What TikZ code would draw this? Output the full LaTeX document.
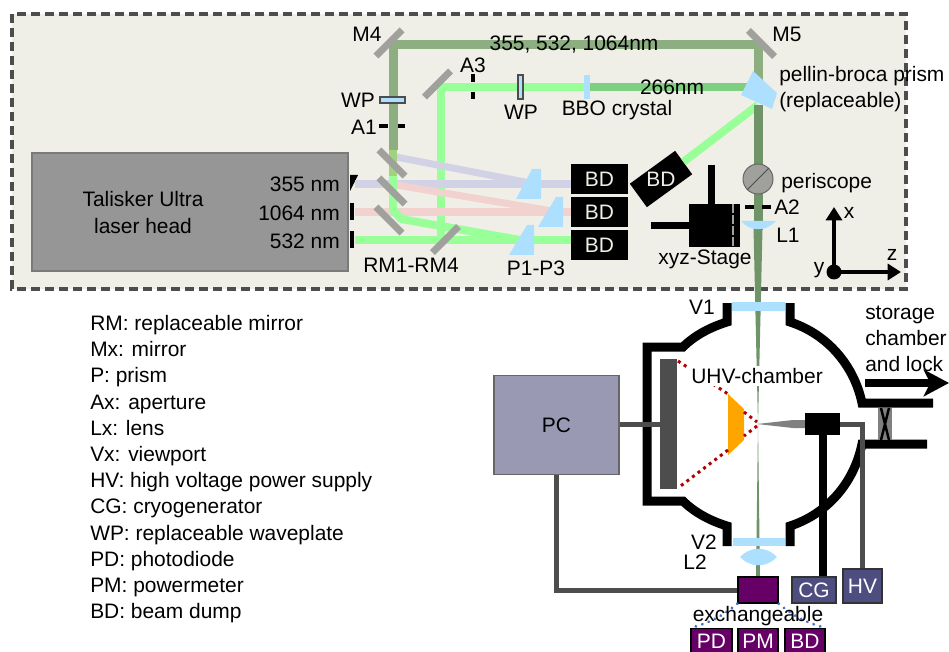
\documentclass[tikz,border=0pt]{standalone}
\usepackage{fontspec}
\setmainfont{Liberation Sans}
\usetikzlibrary{arrows.meta,positioning}
\newcommand{\px}{0.75pt}
\definecolor{tablebg}{HTML}{F0EFE7}
\definecolor{framegray}{HTML}{4D4D4D}
\definecolor{mirrorgray}{HTML}{A0A19C}
\definecolor{optblue}{HTML}{ADE0FF}
\definecolor{beamall}{HTML}{8DAE80}
\definecolor{beamuv}{HTML}{6F9468}
\definecolor{beamgreen}{HTML}{99FF99}
\definecolor{beamfour}{HTML}{7FCF80}
\definecolor{beamviolet}{HTML}{D2D2E6}
\definecolor{beampink}{HTML}{F2D2CE}
\definecolor{beammix}{HTML}{A0D27F}
\definecolor{pcblue}{HTML}{9999B3}
\definecolor{supplyblue}{HTML}{4D4D80}
\definecolor{detpurple}{HTML}{660066}
\definecolor{raydots}{HTML}{B00000}
\definecolor{linkdots}{HTML}{4472C4}
\definecolor{mcpfill}{HTML}{FFA500}

\begin{document}
\begin{tikzpicture}[x=\px, y=-\px, >=Stealth]
  \tikzset{
    every node/.style={inner sep=0pt, font=\fontsize{15.7}{19.65}\selectfont},
    dumpbox/.style={fill=black, text=tablebg, minimum width=57*\px, minimum height=30*\px},
    mirror/.style={fill=mirrorgray, minimum width=37*\px, minimum height=7*\px},
    beam/.style={line width=8*\px},
    aperture/.style={draw=black, line width=4.5*\px},
    prism/.style={fill=optblue},
    wplate/.style={fill=optblue, draw=framegray, line width=1.2*\px},
    detbox/.style={fill=detpurple, draw=black, line width=1.3*\px, text=white, minimum height=26*\px},
    supply/.style={fill=supplyblue, draw=black!80, line width=1.3*\px, text=white},
    wire/.style={draw=framegray, line width=5*\px},
    wall/.style={draw=black, line width=9*\px, miter limit=10},
    linkdot/.style={draw=linkdots, line width=3*\px, line cap=round, dash pattern=on 0.1pt off 5pt}
  }
  \useasboundingbox (0,0) rectangle (949,652);

  % optical table
  \draw[draw=framegray, fill=tablebg, line width=3.5*\px, dash pattern=on 9*\px off 5*\px] (12,14) rectangle (906,289);
  \node[fill=black!41, draw=black!52, line width=2.5*\px, minimum width=316*\px, minimum height=118*\px] (head) at (190,212) {};
  \node[align=center] (headtxt) at (143,213) {Talisker Ultra\\[0.6pt]laser head};
  \node[anchor=east] (l355) at (340,184) {355 nm};
  \node[anchor=east] (l1064) at (340,213) {1064 nm};
  \node[anchor=east] (l532) at (340,241) {532 nm};
  \fill (350,175) -- (358,175) -- (350,191) -- cycle;
  \fill (350,203) rectangle (354,220);
  \fill (350,231) rectangle (354,248);

  \node[dumpbox] (bd1) at (599.5,179) {BD};
  \node[dumpbox] (bd2) at (599.5,212) {BD};
  \node[dumpbox] (bd3) at (599.5,245) {BD};
  \node[fill=black, rotate=36, minimum width=56*\px, minimum height=29*\px] (bd4) at (661,179) {};
  \node[text=tablebg] (bd4txt) at (661,179) {BD};

  % turning points of the beams
  \coordinate (c4) at (393,45);
  \coordinate (c5) at (758,45);
  \coordinate (c3) at (441,87);
  \coordinate (cp) at (758,87);
  \coordinate (cr) at (758,105);
  \coordinate (cb) at (441,240);

  % beams
  \draw[beam, draw=beamgreen] (355,240) -- (bd3.west |- 355,240);
  \draw[beam, draw=beamgreen] (cb) -- (c3) -- (587,87);
  \draw[beam, draw=beamfour] (587,87) -- (cp);
  \draw[beam, draw=beamviolet] (355,184) -- (bd1.west |- 355,184);
  \draw[beam, draw=beamviolet, line width=7*\px] (396,157) -- (530,183);
  \draw[beam, draw=beampink] (355,212) -- (bd2.west);
  \draw[beam, draw=beampink, line width=7*\px] (396,185) -- (552,211);
  \draw[beam, draw=beamgreen, line join=round] (393,175) -- (393,210) -- (401,219) -- (520,240);
  \draw[beam, draw=beammix] (393,148) -- (393,176);
  \draw[beam, draw=beamall, line width=9*\px] (393,150) -- (c4) -- (c5) -- (758,80);
  \draw[beam, draw=beamgreen] (cr) -- (bd4);
  \draw[beam, draw=beamuv, line width=9*\px] (cr) -- (758,230);
  \fill[beamuv] (753.5,228) -- (762.5,228) -- (758,424) -- (760,577) -- (756,577) -- (758,424) -- cycle;

  % mirrors
  \node[mirror, rotate=45] (m4) at (389,43) {};
  \node[mirror, rotate=-45] (m5) at (761.5,43.5) {};
  \node[mirror, rotate=45] (m3) at (437.5,84) {};
  \node[mirror, rotate=-45] (rm1) at (392,163) {};
  \node[mirror, rotate=-45] (rm2) at (392,191) {};
  \node[mirror, rotate=-45] (rm3) at (389,220) {};
  \node[mirror, rotate=45] (rm4) at (445.5,239.5) {};

  % prisms and plates
  \fill[prism] (516,199) -- (541,199) -- (541,169) -- (532,169) -- cycle;
  \fill[prism] (538,227) -- (563,227) -- (563,197) -- (556,197) -- cycle;
  \fill[prism] (509,255) -- (534,255) -- (534,225) -- (527,225) -- cycle;
  \fill[prism] (753,71) -- (777,93) -- (772,109) -- (741,95) -- cycle;
  \draw[wplate] (380,97) rectangle (405,103);
  \draw[wplate] (518,75) rectangle (523,99);
  \fill[prism] (584,75) rectangle (590,99);
  \draw[aperture] (379,126) -- (388,126) (398,126) -- (405,126);
  \draw[aperture] (473,74) -- (473,82) (473,92) -- (473,99);
  \draw[aperture] (745,207) -- (754,207) (762,207) -- (771,207);

  \node[circle, fill=mirrorgray, draw=black!60, line width=1*\px, minimum size=30*\px] (scope) at (758,179) {};
  \draw[line width=1*\px, black!70] (scope.225) -- (scope.45);
  \fill[prism] (741,221) .. controls (750,232) and (766,232) .. (776,221) -- cycle;

  % stage
  \node[fill=black, minimum width=51*\px, minimum height=43*\px] (stage) at (714.5,225.5) {};
  \coordinate (stagex) at (711,165);
  \coordinate (stagez) at (651,226);
  \draw[line width=7*\px] (stagex) -- (stagex |- stage.north);
  \draw[line width=7*\px] (stagez) -- (stagez -| stage.west);
  \draw[mirrorgray, line width=2*\px, dash pattern=on 9*\px off 2*\px] (733,204) -- (733,247);

  % axes
  \node[circle, fill=black, minimum size=15*\px] (org) at (834,272) {};
  \coordinate (axx) at (834,207);
  \coordinate (axz) at (901,272);
  \draw[-{Triangle[length=10pt,width=12pt]}, line width=4.5*\px] (org.center) -- (axx);
  \draw[-{Triangle[length=10pt,width=12pt]}, line width=4.5*\px] (org.center) -- (axz);
  \node (lx) at (849,213) {x};
  \node (lz) at (892,255) {z};
  \node (ly) at (819,270) {y};

  % labels on the table
  \node (lm4) at (367,34) {M4};
  \node (lm5) at (787,34) {M5};
  \node (lwp1) at (358,100) {WP};
  \node (la1) at (364,127) {A1};
  \node (la3) at (473,65) {A3};
  \node (lwp2) at (521,112) {WP};
  \node (lbbo) at (617,110) {BBO crystal};
  \node (lall) at (574,45) {355, 532, 1064nm};
  \node (l266) at (672,87) {266nm};
  \node[anchor=west] (lpb) at (779,76) {pellin-broca prism};
  \node[anchor=west] (lrep) at (779,102) {(replaceable)};
  \node[anchor=west] (lsc) at (781,183) {periscope};
  \node[anchor=west] (la2) at (774,207) {A2};
  \node[anchor=west] (ll1) at (776,235) {L1};
  \node (lxyz) at (705,259) {xyz-Stage};
  \node (lrm) at (411,265) {RM1-RM4};
  \node (lp) at (536,268) {P1-P3};

  % chamber
  \draw[wall] (727,303) -- (727,322) .. controls (711,327) and (695,335) .. (683,347) -- (647,347) -- (647,501) -- (683,501)
    .. controls (695,513) and (711,521) .. (727,526) -- (727,546);
  \draw[wall] (790,303) -- (790,322) .. controls (827,334) and (854,365) .. (862,403) -- (933,403);
  \draw[wall] (927,444) -- (862,444) .. controls (854,483) and (827,514) .. (790,526) -- (790,546);
  \fill[prism] (732,302) rectangle (785,311);
  \fill[prism] (733,538) rectangle (785,546);
  \fill[prism] (740,557) .. controls (750,546) and (767,546) .. (777,557) .. controls (767,568) and (750,568) .. (740,557) -- cycle;
  \node (lv1) at (702,307) {V1};
  \node (lv2) at (704,542) {V2};
  \node (ll2) at (695,562) {L2};

  \fill[black!50] (878,408) rectangle (892,440);
  \draw[line width=2.5*\px] (881,408) -- (889,440) (889,408) -- (881,440);
  \node[fill=framegray, minimum width=17*\px, minimum height=130*\px] (plate) at (668.5,424) {};
  \fill[mcpfill] (728,394) -- (744,409) -- (744,440) -- (728,455) -- cycle;
  \draw[draw=raydots, line width=3*\px, dash pattern=on 3*\px off 4*\px] (678,361) -- (728,394) (744,412) -- (757,422) (757,426) -- (744,436) (728,450) -- (678,488);
  \node[fill=white, inner xsep=3pt, inner ysep=2pt] (uhv) at (757,376) {UHV-chamber};

  \fill[black!50] (757,424) -- (793,420) -- (806,420) -- (806,428) -- (793,428) -- cycle;
  \node[fill=black, minimum width=35*\px, minimum height=22*\px] (block) at (822.5,424) {};

  % boxes below the chamber
  \node[fill=pcblue, draw=black!60, line width=1.5*\px, minimum width=125*\px, minimum height=99*\px] (pc) at (556.5,425) {PC};
  \node[detbox, minimum width=40*\px] (exch) at (758,590) {};
  \node[supply, minimum width=44*\px, minimum height=26*\px] (cg) at (814,590) {CG};
  \node[supply, minimum width=39*\px, minimum height=34*\px] (hv) at (862.5,586) {HV};
  \node[detbox, minimum width=41*\px, anchor=north] (pd) at (711.5,628) {PD};
  \node[detbox, minimum width=40*\px, anchor=north] (pm) at (758,628) {PM};
  \node[detbox, minimum width=40*\px, anchor=north] (bd5) at (805,628) {BD};

  \draw[wire] (pc.east |- plate) -- (plate.west);
  \draw[wire] (pc.south) |- (exch.west);
  \draw[wire] (block.east) -| (hv.north);
  \draw[line width=8*\px] (block.south) -- (block.south |- cg.north);
  \draw[linkdot] (exch.south west) to[bend left=12] (pd.north west);
  \draw[linkdot] (exch.south east) to[bend right=12] (bd5.north east);
  \node (lex) at (758,616) {exchangeable};

  \coordinate (lockin) at (865,383);
  \coordinate (lockout) at (949,383);
  \draw[-{Stealth[length=19pt,width=20pt,inset=5pt]}, line width=8*\px] (lockin) -- (lockout);
  \node[anchor=west, align=left] (lstore) at (865,339) {storage\\chamber\\and lock};

  % abbreviations
  \node[anchor=north west, align=left] (legend) at (90,315) {RM: replaceable mirror\\Mx: mirror\\P: prism\\Ax: aperture\\Lx: lens\\Vx: viewport\\HV: high voltage power supply\\CG: cryogenerator\\WP: replaceable waveplate\\PD: photodiode\\PM: powermeter\\BD: beam dump};
\end{tikzpicture}
\end{document}
